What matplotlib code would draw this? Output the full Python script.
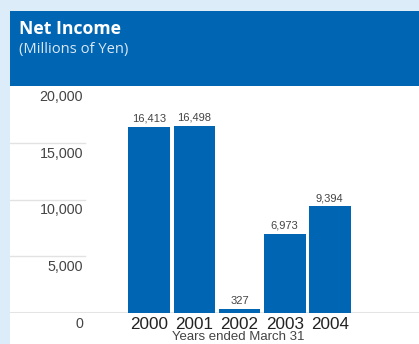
import matplotlib
matplotlib.use("Agg")
import matplotlib.pyplot as plt
from matplotlib.patches import Rectangle
from matplotlib.transforms import offset_copy

# Net income, millions of yen, fiscal years ended March 31
years = ["2000", "2001", "2002", "2003", "2004"]
net_income = [16413, 16498, 327, 6973, 9394]
y_ticks = [0, 5000, 10000, 15000, 20000]
y_tick_labels = ["0", "5,000", "10,000", "15,000", "20,000"]

W, H = 419, 344
DPI = 100
BLUE = "#0066B3"
PALE = "#DCEDF9"
NUM_FONT = ["Liberation Sans", "DejaVu Sans"]
HEAD_FONT = ["Open Sans", "DejaVu Sans"]

fig = plt.figure(figsize=(W / DPI, H / DPI), dpi=DPI)
fig.patch.set_facecolor(PALE)

def px_box(x0, y0, x1, y1):
    # pixel box (top-left origin) -> figure fraction [left, bottom, width, height]
    return [x0 / W, 1 - y1 / H, (x1 - x0) / W, (y1 - y0) / H]

# white panel and blue header band
l, b, w, h = px_box(10, 86, W, H)
fig.add_artist(Rectangle((l, b), w, h, transform=fig.transFigure, facecolor="white", edgecolor="none", zorder=0))
l, b, w, h = px_box(10, 11, W, 86)
fig.add_artist(Rectangle((l, b), w, h, transform=fig.transFigure, facecolor=BLUE, edgecolor="none", zorder=0))

fig.text(19 / W, 1 - 29 / H, "Net Income", color="white", fontsize=12.7, fontweight="bold",
         family=HEAD_FONT, ha="left", va="center")
fig.text(19 / W, 1 - 49 / H, "(Millions of Yen)", color="#DCE8F4", fontsize=10.6,
         family=HEAD_FONT, ha="left", va="center")

ax = fig.add_axes(px_box(10, 86, W, 313))
ax.set_facecolor("none")
for s in ax.spines.values():
    s.set_visible(False)

step = 45.15
x_left = -(149.2 - 10) / step
x_right = 4 + (419 - 329.8) / step
ax.set_xlim(x_left, x_right)
ax.set_ylim(0, 20000)

xs = list(range(len(years)))
bars = ax.bar(xs, net_income, width=41.7 / step, color=BLUE, zorder=3)

# short gridlines at the left, full-width baseline
grid_frac = (85 - 10) / (W - 10)
for v in y_ticks[1:-1]:
    ax.axhline(v, xmin=0, xmax=grid_frac, color="#E2E2E2", lw=1.0, zorder=1)
ax.axhline(0, color="#E4E4E4", lw=2.2, zorder=2)

# y labels sit just below their gridlines
lab_tr = offset_copy(ax.get_yaxis_transform(), fig=fig, x=0, y=-11, units="dots")
for v, t in zip(y_ticks, y_tick_labels):
    ax.text((83 - 10) / (W - 10), v, t, transform=lab_tr, ha="right", va="center",
            fontsize=10.3, color="#444444", family=NUM_FONT)
ax.set_yticks([])

ax.set_xticks(xs, years)
ax.tick_params(axis="x", length=0, pad=3.2, labelsize=12.3, labelcolor="#222222")
for t in ax.get_xticklabels():
    t.set_family(NUM_FONT)

for x, v in zip(xs, net_income):
    ax.annotate(f"{v:,}", (x, v), xytext=(0, 2.2), textcoords="offset points",
                ha="center", va="bottom", fontsize=8, color="#444444", family=NUM_FONT)

fig.text(238 / W, 1 - 337.5 / H, "Years ended March 31", ha="center", va="center",
         fontsize=9.5, color="#444444", family=NUM_FONT)

fig.savefig("out.png", dpi=DPI, facecolor=fig.get_facecolor())
